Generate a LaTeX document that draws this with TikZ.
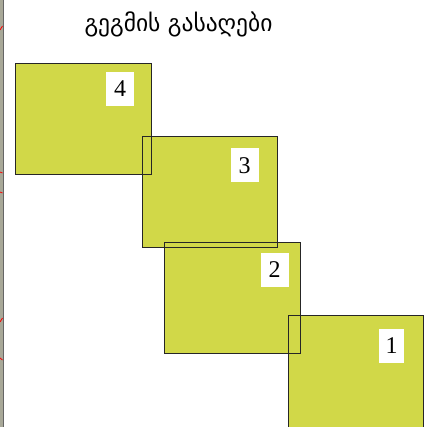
\documentclass[tikz,border=0pt]{standalone}
\usepackage{fontspec}
\setmainfont{Liberation Serif}
\newfontfamily\geofont[Script=Georgian]{DejaVu Sans}
\definecolor{planfill}{RGB}{209,216,72}
\definecolor{stripgray}{RGB}{168,168,152}
\begin{document}
\begin{tikzpicture}[x=1pt,y=-1pt,
  plan/.style={fill=planfill,draw=black!85,line width=0.9pt},
  numbox/.style={fill=white,inner sep=0pt,minimum width=28pt,minimum height=34pt,font=\fontsize{24}{24}\selectfont},
  redtick/.style={draw=red,line width=0.8pt}]
\useasboundingbox (0,0) rectangle (429,427);
% left strip
\fill[stripgray] (0,0) rectangle (3,427);
\draw[black!60,line width=0.5pt] (3.2,0) -- (3.2,427);
\coordinate (t1a) at (0,30); \coordinate (t1b) at (2.5,26);
\draw[redtick] (t1a) -- (t1b);
\coordinate (t2a) at (0,172); \coordinate (t2b) at (2.5,173);
\draw[redtick] (t2a) -- (t2b);
\coordinate (t3a) at (0,192); \coordinate (t3b) at (2.5,193);
\draw[redtick] (t3a) -- (t3b);
\coordinate (t4a) at (0,322); \coordinate (t4b) at (2.5,318);
\draw[redtick] (t4a) -- (t4b);
\coordinate (t5a) at (0,358); \coordinate (t5b) at (2.5,360);
\draw[redtick] (t5a) -- (t5b);
% title
\node (title) at (178.5,24) {\geofont\fontsize{23.5}{26}\selectfont გეგმის გასაღები};
% fills
\fill[planfill] (15,63.5) rectangle (151,174);
\fill[planfill] (142,136) rectangle (277.5,247);
\fill[planfill] (164.5,242) rectangle (300.5,353.5);
\fill[planfill] (288,315.5) rectangle (423,430);
% outlines
\draw[plan,fill=none] (15,63.5) rectangle (151,174);
\draw[plan,fill=none] (142,136) rectangle (277.5,247);
\draw[plan,fill=none] (164.5,242) rectangle (300.5,353.5);
\draw[plan,fill=none] (288,315.5) rectangle (423,430);
% numbers
\node[numbox] (n4) at (120,89) {4};
\node[numbox] (n3) at (244.5,165.5) {3};
\node[numbox] (n2) at (274.5,270) {2};
\node[numbox,minimum width=25pt] (n1) at (391.5,346) {1};
\end{tikzpicture}
\end{document}
